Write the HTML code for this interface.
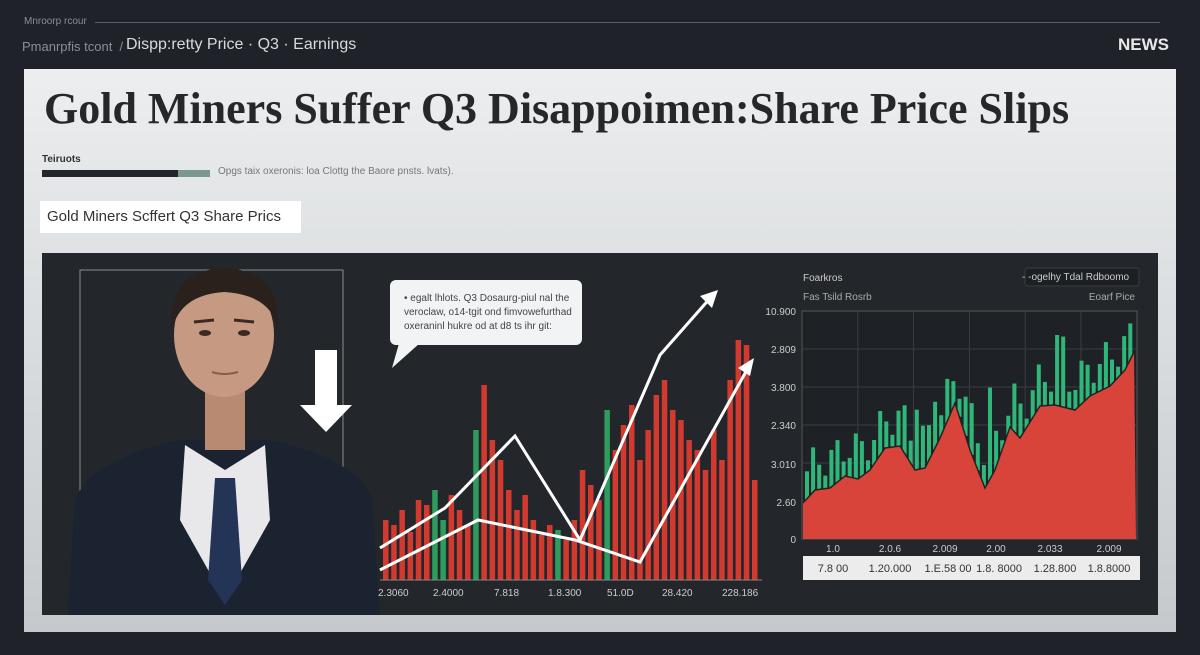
<!DOCTYPE html>
<html><head><meta charset="utf-8">
<style>
html,body{margin:0;padding:0;width:1200px;height:655px;overflow:hidden;background:#1f2329;font-family:"Liberation Sans",sans-serif}
.abs{position:absolute}
</style></head><body>
<div class="abs" style="left:24px;top:16px;font-size:10px;color:#8a8e94">Mnroorp rcour</div>
<div class="abs" style="left:95px;top:22px;width:1065px;height:1px;background:#5a5e64"></div>
<div class="abs" style="left:22px;top:39px;font-size:13px;color:#8a8e94">Pmanrpfis tcont&nbsp; /</div>
<div class="abs" style="left:126px;top:36px;font-size:16px;color:#d8dadc">Dispp:retty Price · Q3 · Earnings</div>
<div class="abs" style="left:1118px;top:35px;font-size:17px;font-weight:bold;color:#e8e8e8">NEWS</div>
<div class="abs" style="left:24px;top:69px;width:1152px;height:563px;background:linear-gradient(180deg,#eceeef 0%,#dcdfe1 40%,#c6c9cc 100%)"></div>
<div class="abs" style="left:44px;top:83px;font-family:'Liberation Serif',serif;font-weight:bold;font-size:44px;color:#25272a;letter-spacing:0px">Gold Miners Suffer Q3 Disappoimen:Share Price Slips</div>
<div class="abs" style="left:42px;top:154px;font-size:10px;font-weight:bold;color:#333">Teiruots</div>
<div class="abs" style="left:42px;top:170px;width:136px;height:7px;background:#22262b"></div>
<div class="abs" style="left:178px;top:170px;width:32px;height:7px;background:#7c9690"></div>
<div class="abs" style="left:218px;top:166px;font-size:10px;color:#777">Opgs taix oxeronis: loa Clottg the Baore pnsts. lvats).</div>
<div class="abs" style="left:40px;top:201px;width:261px;height:32px;background:#fff"></div>
<div class="abs" style="left:47px;top:208px;font-size:15px;color:#333">Gold Miners Scffert Q3 Share Prics</div>
<div class="abs" style="left:42px;top:253px;width:1116px;height:362px;background:#23262b"></div>
<svg class="abs" style="left:0;top:0" width="1200" height="655" id="s">
<rect x="80" y="270" width="263" height="220" fill="none" stroke="#8a8d90" stroke-width="1"/>
<path d="M68 615 L75 500 Q90 460 180 440 L270 440 Q360 460 372 500 L380 615Z" fill="#1b2230"/>
<path d="M185 445 L225 470 L265 445 L270 520 L225 600 L180 520Z" fill="#e8e8ea"/>
<path d="M215 478 L235 478 L242 580 L225 605 L208 580Z" fill="#243457"/>
<rect x="205" y="380" width="40" height="70" fill="#b88a72"/>
<ellipse cx="224" cy="335" rx="50" ry="62" fill="#c69a82"/>
<path d="M172 330 Q168 270 224 268 Q282 270 278 330 Q272 295 224 292 Q180 295 172 330Z" fill="#2a211d"/>
<ellipse cx="205" cy="333" rx="6" ry="3" fill="#3a2a22"/><ellipse cx="244" cy="333" rx="6" ry="3" fill="#3a2a22"/>
<path d="M194 322 L214 320 M234 320 L254 322" stroke="#3a2a22" stroke-width="3"/>
<path d="M212 372 Q224 376 238 372" stroke="#8a5a4a" stroke-width="2" fill="none"/>
<path d="M315 350 L337 350 L337 405 L352 405 L326 432 L300 405 L315 405Z" fill="#fff"/>
<rect x="390" y="280" width="192" height="65" rx="6" fill="#f2f3f4"/>
<path d="M400 340 L392 368 L420 343Z" fill="#f2f3f4"/>
<text x="404" y="301" font-size="10" fill="#444">• egalt lhlots. Q3 Dosaurg-piul nal the</text>
<text x="404" y="315" font-size="10" fill="#444">veroclaw, o14-tgit ond fimvowefurthad</text>
<text x="404" y="329" font-size="10" fill="#444">oxeraninl hukre od at d8 ts ihr git:</text>
<g id="mid"></g>
<line x1="380" y1="580" x2="762" y2="580" stroke="#888" stroke-width="1"/>
<polyline points="380,548 445,508 515,436 580,540 660,355 712,296" fill="none" stroke="#fff" stroke-width="3"/>
<path d="M718 290 L700 296 L712 308Z" fill="#fff"/>
<polyline points="380,570 478,520 575,540 640,562 748,368" fill="none" stroke="#fff" stroke-width="3"/>
<path d="M754 358 L738 368 L750 376Z" fill="#fff"/>
<g font-size="10" fill="#ccc">
<text x="378" y="596">2.3060</text><text x="433" y="596">2.4000</text><text x="494" y="596">7.818</text><text x="548" y="596">1.8.300</text><text x="607" y="596">51.0D</text><text x="662" y="596">28.420</text><text x="722" y="596">228.186</text></g>
<text x="803" y="281" font-size="10" fill="#ccc">Foarkros</text>
<text x="803" y="300" font-size="10" fill="#aaa">Fas Tsild Rosrb</text>
<rect x="1025" y="268" width="114" height="18" rx="3" fill="#1c1f23" stroke="#3a3d42"/>
<text x="1022" y="280" font-size="10" fill="#ccc">- -ogelhy Tdal Rdboomo</text>
<text x="1135" y="300" font-size="10" fill="#aaa" text-anchor="end">Eoarf Pice</text>
<rect x="802" y="311" width="335" height="228" fill="#1e2125" stroke="#555"/>
<g id="grid" stroke="#3a3d42" stroke-width="1"></g>
<g id="rgt"></g>
<g font-size="10" fill="#ccc" text-anchor="end">
<text x="796" y="315">10.900</text><text x="796" y="353">2.809</text><text x="796" y="391">3.800</text><text x="796" y="429">2.340</text><text x="796" y="468">3.010</text><text x="796" y="506">2.60</text><text x="796" y="543">0</text></g>
<g font-size="10" fill="#ccc" text-anchor="middle">
<text x="833" y="552">1.0</text><text x="890" y="552">2.0.6</text><text x="945" y="552">2.009</text><text x="996" y="552">2.00</text><text x="1050" y="552">2.033</text><text x="1109" y="552">2.009</text></g>
<rect x="803" y="556" width="337" height="24" fill="#ececec"/>
<g font-size="11" fill="#333" text-anchor="middle">
<text x="833" y="572">7.8 00</text><text x="890" y="572">1.20.000</text><text x="948" y="572">1.E.58 00</text><text x="999" y="572">1.8. 8000</text><text x="1055" y="572">1.28.800</text><text x="1109" y="572">1.8.8000</text></g>
</svg>
<script>
var ns="http://www.w3.org/2000/svg";
function el(p,t,a){var e=document.createElementNS(ns,t);for(var k in a)e.setAttribute(k,a[k]);document.getElementById(p).appendChild(e);return e;}
var h=[60,55,70,48,80,75,90,60,85,70,55,150,195,140,120,90,70,85,60,45,55,50,40,60,110,95,80,170,130,155,175,120,150,185,200,170,160,140,130,110,150,120,200,240,235,100];
for(var i=0;i<h.length;i++){var x=383+i*8.2;var g=(i==11||i==6||i==7||i==21||i==27);
el("mid","rect",{x:x,y:580-h[i],width:5.5,height:h[i],fill:g?"#2e9c5c":"#d23a30"});}
for(var i=1;i<6;i++){el("grid","line",{x1:802+i*55.8,y1:311,x2:802+i*55.8,y2:539});}
for(var j=1;j<6;j++){el("grid","line",{x1:802,y1:311+j*38,x2:1137,y2:311+j*38});}
var pts=[[803,503],[815,490],[830,488],[845,476],[858,479],[870,470],[885,448],[900,446],[915,470],[925,468],[940,438],[955,403],[970,450],[985,488],[995,470],[1010,427],[1020,438],[1040,406],[1055,405],[1075,410],[1090,396],[1110,386],[1125,370],[1134,352]];
for(var i=0;i<54;i++){var x=805+i*6.1;var yb=503;for(var k=1;k<pts.length;k++){if(x<=pts[k][0]){var a=pts[k-1],b=pts[k];yb=a[1]+(b[1]-a[1])*(x-a[0])/(b[0]-a[0]);break;}}
var t=(Math.sin(i*1.7)*0.5+0.5)*35+12; if(i==30)t=95;if(i==18)t=60;if(i==21)t=50;if(i==41||i==42)t=70;if(i==53)t=40;
el("rgt","rect",{x:x,y:yb-t,width:4,height:t+6,fill:"#2fb77a"});}
var d="M803 539 "+pts.map(function(p){return "L"+p[0]+" "+p[1]}).join(" ")+" L1136 539Z";
el("rgt","path",{d:d,fill:"#d8433a"});
el("rgt","polyline",{points:pts.map(function(p){return p.join(",")}).join(" "),fill:"none",stroke:"#222",'stroke-width':1.5});
</script>
</body></html>
